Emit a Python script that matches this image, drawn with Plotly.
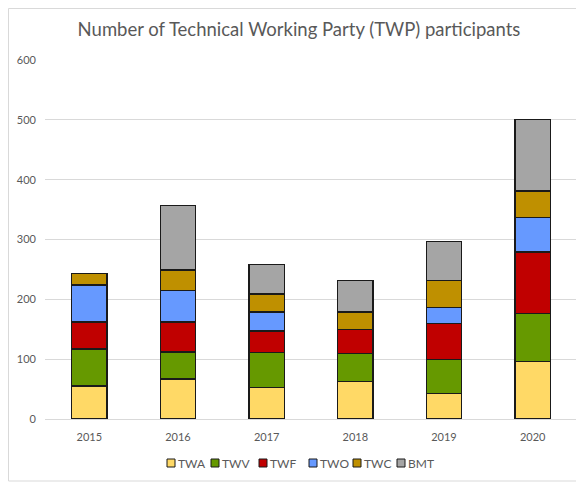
import plotly.graph_objects as go

years = ["2015", "2016", "2017", "2018", "2019", "2020"]
series_names = ["TWA", "TWV", "TWF", "TWO", "TWC", "BMT"]
twa = [55, 67, 53, 63, 42, 96]
twv = [62, 45, 58, 46, 58, 81]
twf = [45, 50, 36, 40, 60, 102]
two = [62, 53, 32, 0, 27, 58]
twc = [19, 34, 30, 30, 45, 44]
bmt = [0, 108, 49, 53, 64, 119]
series_values = [twa, twv, twf, two, twc, bmt]
colors = ["#FFD966", "#669900", "#C00000", "#6699FF", "#BF9000", "#A5A5A5"]

# page offset: the html body has an 8px margin
W, H = 576, 475
L, R, T, B = 37, 7, 52, 64
pw, ph = W - L - R, H - T - B

def px_to_paper_x(px):
    return (px - 8 - L) / pw

def px_to_paper_y(py):
    return (H - B - (py - 8)) / ph

fig = go.Figure()
for name, vals, col in zip(series_names, series_values, colors):
    fig.add_trace(go.Bar(
        x=years, y=vals, name=name, showlegend=False,
        marker=dict(color=col, line=dict(color="#1a1a1a", width=1.2)),
    ))

font_family = "Lato, 'Open Sans', sans-serif"
gray = "#595959"

# custom compact legend (Excel style)
legend_left = [167, 211, 259, 309, 353, 397]
sq = 8
ly = 463
shapes = []
annotations = []
for name, col, lx in zip(series_names, colors, legend_left):
    shapes.append(dict(type="rect", xref="paper", yref="paper",
                       x0=px_to_paper_x(lx), x1=px_to_paper_x(lx + sq),
                       y0=px_to_paper_y(ly + sq / 2), y1=px_to_paper_y(ly - sq / 2),
                       line=dict(color="#1a1a1a", width=1), fillcolor=col))
    annotations.append(dict(text=name, xref="paper", yref="paper",
                            x=px_to_paper_x(lx + sq + 1), y=px_to_paper_y(ly),
                            xanchor="left", yanchor="middle", showarrow=False,
                            font=dict(family=font_family, size=12, color=gray)))

# chart border
shapes.append(dict(type="rect", xref="paper", yref="paper",
                   x0=px_to_paper_x(8.5), x1=px_to_paper_x(582),
                   y0=px_to_paper_y(481), y1=px_to_paper_y(8.5),
                   line=dict(color="#D9D9D9", width=1), fillcolor="rgba(0,0,0,0)", layer="below"))

fig.update_layout(
    barmode="stack",
    bargap=0.6,
    width=W, height=H,
    margin=dict(l=L, r=R, t=T, b=B),
    paper_bgcolor="white", plot_bgcolor="white",
    title=dict(text="Number of Technical Working Party (TWP) participants",
               x=px_to_paper_x(299) * pw / W + L / W, xanchor="center",
               y=1 - (30 - 8) / H, yanchor="middle",
               font=dict(family=font_family, size=18.5, color=gray)),
    font=dict(family=font_family, size=11, color=gray),
    xaxis=dict(showgrid=False, showline=False, ticks="", ticklabelstandoff=10,
               tickfont=dict(size=11, color=gray)),
    yaxis=dict(range=[0, 600], dtick=100, showgrid=True, gridcolor="#D9D9D9", gridwidth=1,
               zeroline=True, zerolinecolor="#D9D9D9", zerolinewidth=1,
               showline=False, ticks="", ticklabelstandoff=8,
               tickfont=dict(size=11, color=gray)),
    showlegend=False,
    shapes=shapes,
    annotations=annotations,
)

fig.write_html("out.html")
